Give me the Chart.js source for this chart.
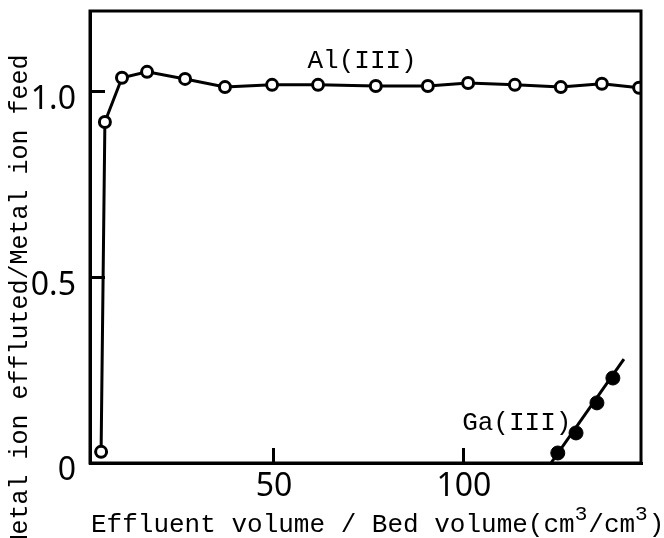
<!DOCTYPE html>
<html>
<head>
<meta charset="utf-8">
<script src="https://cdn.jsdelivr.net/npm/chart.js@4.4.1/dist/chart.umd.min.js"></script>
<style>
  html, body { margin: 0; padding: 0; background: #fff; }
</style>
</head>
<body>
<canvas id="chartCanvas" width="664" height="538"></canvas>
<script>
// Al(III) breakthrough (open circles)
var alVolume = [4.5, 5.5, 10.0, 16.6, 26.6, 37.1, 49.5, 61.6, 76.8, 90.5, 101.1, 113.4, 125.5, 136.3, 146.1];
var alRatio  = [0.03, 0.919, 1.038, 1.054, 1.035, 1.013, 1.019, 1.019, 1.016, 1.016, 1.024, 1.019, 1.013, 1.022, 1.011];

// Ga(III) breakthrough (filled circles)
var gaVolume = [124.7, 129.5, 135.0, 139.2];
var gaRatio  = [0.027, 0.081, 0.162, 0.229];

// straight line drawn through the Ga points
var gaLineVolume = [122.9, 142.1];
var gaLineRatio  = [0, 0.28];

var xTicks = [50, 100];
var yTicks = [0, 0.5, 1.0];
var yTickLabels = ['0', '0.5', '1.0'];

var alLabel = 'Al(III)';
var alLabelAt = [73.2, 1.083];
var gaLabel = 'Ga(III)';
var gaLabelAt = [113.9, 0.108];

// x title pieces: normal text, superscript, normal, superscript, normal
var xTitleParts = ['Effluent volume / Bed volume(cm', '3', '/cm', '3', ')'];
var yTitle = 'Metal ion effluted/Metal ion feed';

var monoFont = "'Liberation Mono', 'Courier New', monospace";
var tickFont = { family: "'Noto Sans', 'Liberation Sans', sans-serif", size: 32, weight: 'extra-condensed' };

function toPoints(xs, ys) {
	var pts = [];
	for (var i in xs) {
		pts.push({ x: xs[i], y: ys[i] });
	}
	return pts;
}

// frame, curve labels and axis titles
var paperText = {
	id: 'paperText',
	afterDatasetsDraw: function(chart) {
		var ctx = chart.ctx;
		var a = chart.chartArea;
		var x = chart.scales.x;
		var y = chart.scales.y;
		ctx.save();
		ctx.strokeStyle = '#000';
		ctx.lineWidth = 3;
		ctx.strokeRect(a.left, a.top, a.right - a.left, a.bottom - a.top);

		ctx.fillStyle = '#000';
		ctx.font = '26px ' + monoFont;
		ctx.textAlign = 'center';
		ctx.textBaseline = 'middle';
		ctx.fillText(alLabel, x.getPixelForValue(alLabelAt[0]), y.getPixelForValue(alLabelAt[1]));
		ctx.fillText(gaLabel, x.getPixelForValue(gaLabelAt[0]), y.getPixelForValue(gaLabelAt[1]));

		// x axis title with raised 3s
		ctx.textAlign = 'left';
		ctx.textBaseline = 'alphabetic';
		var tx = 91;
		var base = 532;
		for (var i = 0; i < xTitleParts.length; i++) {
			var sup = (i === 1 || i === 3);
			ctx.font = (sup ? '21px ' : '26px ') + monoFont;
			ctx.fillText(xTitleParts[i], tx, sup ? base - 12 : base);
			tx += ctx.measureText(xTitleParts[i]).width + (sup ? 1 : 0);
		}

		ctx.font = '25px ' + monoFont;
		ctx.textBaseline = 'middle';
		ctx.translate(20, 302);
		ctx.rotate(-Math.PI / 2);
		ctx.textAlign = 'center';
		ctx.fillText(yTitle, 0, 0);
		ctx.restore();
	}
};

var ctx = document.getElementById('chartCanvas');
var chart = new Chart(ctx, {
	type: 'scatter',
	data: {
		datasets: [
			{
				label: 'Ga(III)',
				data: toPoints(gaVolume, gaRatio),
				showLine: false,
				pointRadius: 7,
				pointBackgroundColor: '#000',
				pointBorderColor: '#000',
				pointBorderWidth: 1
			},
			{
				label: 'Ga(III) line',
				data: toPoints(gaLineVolume, gaLineRatio),
				showLine: true,
				borderColor: '#000',
				borderWidth: 3,
				pointRadius: 0
			},
			{
				label: 'Al(III)',
				data: toPoints(alVolume, alRatio),
				showLine: true,
				tension: 0,
				borderColor: '#000',
				borderWidth: 3,
				pointRadius: 5.5,
				pointBackgroundColor: '#fff',
				pointBorderColor: '#000',
				pointBorderWidth: 3
			}
		]
	},
	options: {
		responsive: false,
		animation: false,
		layout: {
			autoPadding: false,
			padding: { left: 0, top: 11, right: 23, bottom: 0 }
		},
		plugins: {
			legend: { display: false },
			tooltip: { enabled: false }
		},
		scales: {
			x: {
				type: 'linear',
				min: 1.58,
				max: 146.6,
				afterBuildTicks: function(axis) {
					axis.ticks = xTicks.map(function(v) { return { value: v }; });
				},
				afterFit: function(axis) {
					axis.height = 75;
					axis.paddingLeft = 0;
					axis.paddingRight = 0;
				},
				grid: { drawOnChartArea: false, drawTicks: true, tickLength: -15, color: '#000', lineWidth: 3 },
				border: { display: true, color: '#000', width: 3 },
				ticks: { color: '#000', font: tickFont, padding: 20, maxRotation: 0, autoSkip: false }
			},
			y: {
				type: 'linear',
				min: 0,
				max: 1.218,
				afterBuildTicks: function(axis) {
					axis.ticks = yTicks.map(function(v) { return { value: v }; });
				},
				afterFit: function(axis) {
					axis.width = 90;
					axis.paddingTop = 0;
					axis.paddingBottom = 0;
				},
				grid: { drawOnChartArea: false, drawTicks: true, tickLength: -15, color: '#000', lineWidth: 3 },
				border: { display: true, color: '#000', width: 3 },
				ticks: {
					color: '#000',
					font: tickFont,
					padding: 29,
					labelOffset: 8,
					autoSkip: false,
					callback: function(value, index) { return yTickLabels[index]; }
				}
			}
		}
	},
	plugins: [paperText]
});
</script>
</body>
</html>
